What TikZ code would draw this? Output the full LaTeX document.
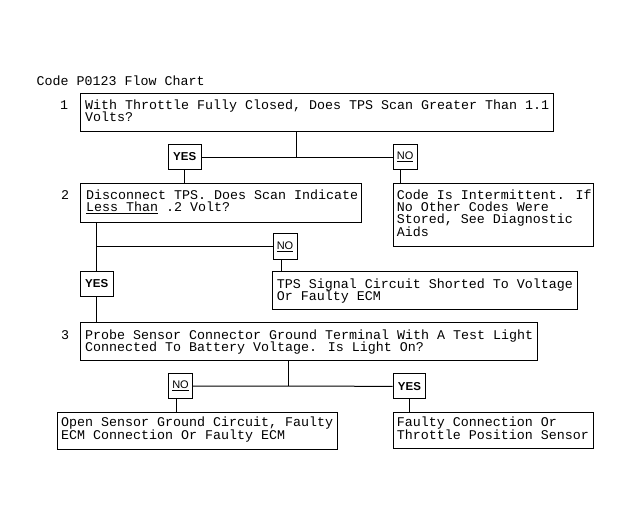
\documentclass[tikz,border=0pt]{standalone}
\usepackage{fontspec}
\setmainfont{Liberation Sans}
\newfontfamily\monof{Liberation Mono}
\AtBeginDocument{\lineskiplimit=-100pt\relax}
\begin{document}
\begin{tikzpicture}[x=1pt,y=-1pt,
  box/.style={draw, line width=1pt, rectangle, inner sep=0pt, anchor=north west},
  txt/.style={anchor=base west, inner sep=0pt, align=left,
    font=\monof\fontsize{13.33}{12.3}\selectfont},
  num/.style={anchor=base west, inner sep=0pt, font=\monof\fontsize{13.33}{12.3}\selectfont},
  yesbox/.style={box, minimum width=32.5pt, minimum height=25pt,
    font=\bfseries\fontsize{11.5}{12}\selectfont},
  nobox/.style={box, minimum width=24pt, minimum height=25pt,
    font=\fontsize{11}{12}\selectfont},
  conn/.style={line width=1pt}]
\useasboundingbox (0,0) rectangle (631,525);
% title (multi-line texts are placed by the baseline of their last line)
\node[num] (title) at (36.5,85) {Code P0123 Flow Chart};
% step 1
\node[num] (n1) at (60,109.3) {1};
\node[box, minimum width=473pt, minimum height=38pt] (b1) at (80,93) {};
\node[txt] (t1) at (85,121.6) {With Throttle Fully Closed, Does TPS Scan Greater Than 1.1\\Volts?};
\node[yesbox] (y1) at (168,144) {YES};
\node[nobox] (no1) at (392.7,144) {\underline{NO}};
% step 2
\node[num] (n2) at (61,199) {2};
\node[box, minimum width=281pt, minimum height=39pt] (b2) at (80,182.5) {};
\node[txt] (t2) at (86,211.3) {Disconnect TPS. Does Scan Indicate\\\underline{Less Than} .2 Volt?};
\node[box, minimum width=200pt, minimum height=63pt] (b4) at (392.7,183) {};
\node[txt] (t4) at (396.7,236.2) {Code Is Intermittent. If\\No Other Codes Were\\Stored, See Diagnostic\\Aids};
\node[nobox, minimum height=26pt] (no2) at (272.5,233) {\underline{NO}};
\node[yesbox] (y2) at (80,271) {YES};
\node[box, minimum width=305pt, minimum height=38pt] (b5) at (272,271.3) {};
\node[txt] (t5) at (276.7,300.6) {TPS Signal Circuit Shorted To Voltage\\Or Faulty ECM};
% step 3
\node[num] (n3) at (61,339) {3};
\node[box, minimum width=457pt, minimum height=38pt] (b3) at (80,322) {};
\node[txt] (t3) at (85,351.3) {Probe Sensor Connector Ground Terminal With A Test Light\\Connected To Battery Voltage. Is Light On?};
\node[nobox] (no3) at (168,373) {\underline{NO}};
\node[yesbox] (y3) at (392.7,373.3) {YES};
\node[box, minimum width=280pt, minimum height=37.7pt] (b6) at (56.7,411.7) {};
\node[txt] (t6) at (61,439) {Open Sensor Ground Circuit, Faulty\\ECM Connection Or Faulty ECM};
\node[box, minimum width=200pt, minimum height=36.7pt] (b7) at (392.7,411.7) {};
\node[txt] (t7) at (396.7,439) {Faulty Connection Or\\Throttle Position Sensor};
% connectors
\coordinate (j1) at (296.7,157);
\coordinate (j3) at (288,385.7);
\draw[conn] (b1.south -| j1) -- (j1);
\draw[conn] (y1.east) -- (no1.west);
\draw[conn] (y1.south) -- (y1.south |- b2.north);
\draw[conn] ([xshift=-4.7pt]no1.south) -- ([xshift=-4.7pt]no1.south |- b4.north);
\draw[conn] (b2.south -| y2.north) -- (y2.north);
\draw[conn] (y2.north |- no2.west) -- (no2.west);
\draw[conn] ([xshift=-3.8pt]no2.south) -- ([xshift=-3.8pt]no2.south |- b5.north);
\draw[conn] (y2.south) -- (y2.south |- b3.north);
\draw[conn] (b3.south -| j3) -- (j3);
\draw[conn] (no3.east) -- (y3.west);
\draw[conn] ([xshift=-3.7pt]no3.south) -- ([xshift=-3.7pt]no3.south |- b6.north);
\draw[conn] (y3.south) -- (y3.south |- b7.north);
\end{tikzpicture}
\end{document}
